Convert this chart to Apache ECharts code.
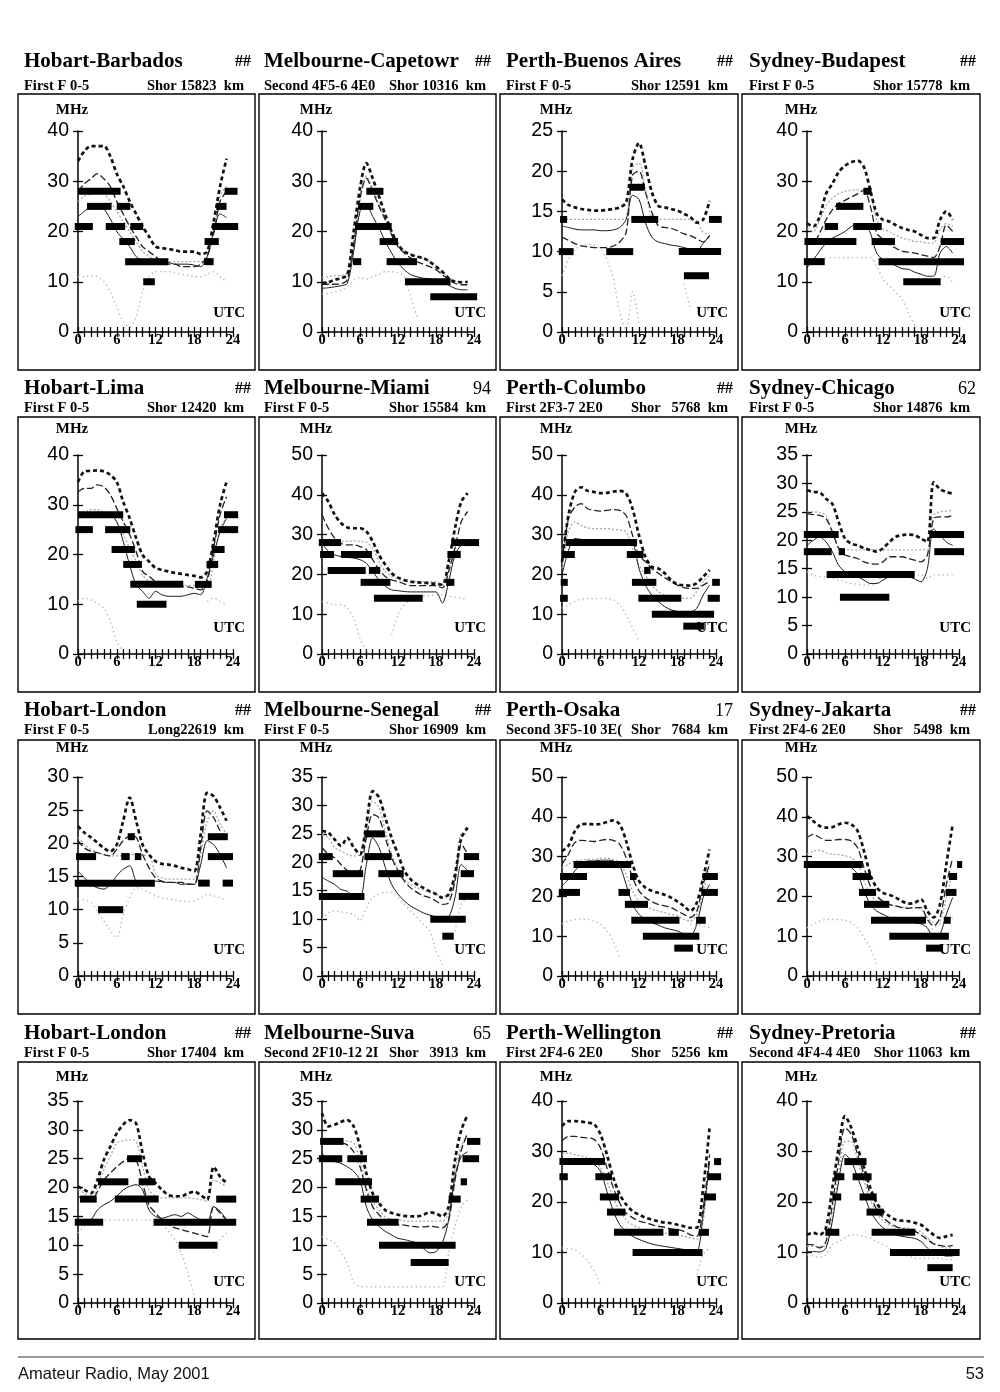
<!DOCTYPE html>
<html><head><meta charset="utf-8">
<script src="https://cdn.jsdelivr.net/npm/echarts@6/dist/echarts.min.js"></script>
<style>html,body{margin:0;padding:0;background:#fff}#c{width:1000px;height:1392px}</style>
</head><body><div id="c"></div>
<script>
// ---------- panel texts ----------
const titles = ['Hobart-Barbados','Melbourne-Capetowr','Perth-Buenos Aires','Sydney-Budapest',
  'Hobart-Lima','Melbourne-Miami','Perth-Columbo','Sydney-Chicago',
  'Hobart-London','Melbourne-Senegal','Perth-Osaka','Sydney-Jakarta',
  'Hobart-London','Melbourne-Suva','Perth-Wellington','Sydney-Pretoria'];
const tags = ['##','##','##','##','##','94','##','62','##','##','17','##','##','65','##','##'];
const modes = ['First F 0-5','Second 4F5-6 4E0','First F 0-5','First F 0-5',
  'First F 0-5','First F 0-5','First 2F3-7 2E0','First F 0-5',
  'First F 0-5','First F 0-5','Second 3F5-10 3E(','First 2F4-6 2E0',
  'First F 0-5','Second 2F10-12 2I','First 2F4-6 2E0','Second 4F4-4 4E0'];
const dists = ['Shor 15823  km','Shor 10316  km','Shor 12591  km','Shor 15778  km',
  'Shor 12420  km','Shor 15584  km','Shor   5768  km','Shor 14876  km',
  'Long22619  km','Shor 16909  km','Shor   7684  km','Shor   5498  km',
  'Shor 17404  km','Shor   3913  km','Shor   5256  km','Shor 11063  km'];
const yMax  = [40,40,25,40, 40,50,50,35, 30,35,50,50, 35,35,40,40];
const yStep = [10,10,5,10, 10,10,10,5, 5,5,10,10, 5,5,10,10];
const xTickLabels = [0,6,12,18,24];

// ---------- hourly values (0..23 UTC), MHz ----------
const p01_top=[34,36,37,37,37,35,31.5,29,26,23.5,21,19,17,16.7,16.5,16.3,16,16,16,15.5,16,22,29,34.5];
const p01_gry=[26,27,27.5,28,27.5,26,24,22,20,18,16,15,14.5,14.3,14,14,14,14,14,14,15,20,27,29];
const p01_dsh=[28,29.5,30.5,31.5,30.5,29,26,23.5,21,19,17,16,15,14,13.5,13.5,13,13,13,13.5,15,19.5,26,28];
const p01_sol=[23,24,25,25.3,24.5,22.5,20,18.5,17,15,14.3,14,13.8,13.8,13.8,13.5,13.5,13.5,13.3,13,15,20,23.5,22.8];
const p01_low=[11,11,11.2,11,10,8,5,2,1,3,8,11,12,12,12,11.8,11.5,11.3,11,11,11.5,12,11,10];
const p01_bars=[[28,0,6.6],[28,22.7,24.7],[25,1.4,5.2],[25,6,8.1],[25,21.4,23],[21,-0.5,2.3],[21,4.3,7.3],[21,8.1,10.1],[21,20.8,24.8],[18,6.4,8.8],[18,19.6,21.8],[14,7.3,14],[14,19.5,21],[10,10.1,11.9]];

const p02_top=[9.7,9.9,10.4,10.7,11.4,20,28.6,33.6,30.6,27,23.3,20,17.4,16,15.4,15,14.7,14,13,12,10.7,10,9.9,10];
const p02_gry=[10.8,11,11.2,11.3,11.6,17,26,31,28.5,25.5,22.5,19.5,17.5,16.2,15.5,15,14.6,14,13.2,12,10.8,10.2,9.9,10];
const p02_dsh=[9.5,9.5,9.5,9.6,10.4,17.4,26.6,30.6,28,25,22.3,19.3,17,15.7,14.7,14,13.5,13,12.4,11.4,10.4,9.7,9.4,9.4];
const p02_sol=[8.7,8.8,9,9.2,9.7,16,24,25.3,23,20.7,18,15.7,13.7,12.4,11.4,11,10.7,10.6,10.4,10,9.3,8.7,8.4,8.4];
const p02_low=[7.5,7.7,8,8.3,9,10.3,10.8,10.5,11,11.5,12,12,11.8,11,7,3,null,null,null,null,null,null,null,null];
const p02_bars=[[28,7,9.7],[25,5.7,8.1],[21,5.2,11],[18,9.1,12],[14,4.9,6.2],[14,10.2,15],[10,13.1,20.3],[7,17.1,24.5]];

const p03_top=[16.5,15.8,15.5,15.3,15.2,15.1,15.1,15.2,15.3,15.5,16.1,21.5,23.5,20.7,17.4,15.7,15.5,15.3,15.1,14.7,14.3,13.6,14,16.3];
const p03_gry=[14,14,14,14,14,14,14,14,14,14,14.2,20.5,21,17.8,14.3,14,14,14,14,14,14,13.8,12.4,12.2];
const p03_dsh=[11.8,11.4,11,10.7,10.6,10.5,10.5,10.5,10.7,11.2,12.4,19.5,20,17.4,14.9,13.2,13,12.9,12.6,12.2,12,11.6,11.2,12];
const p03_sol=[13.2,13,12.8,12.7,12.7,12.7,12.6,12.6,12.7,13,14,17,16.5,13.6,11.8,11.2,11,10.8,10.7,10.5,10.3,10.1,11,12];
const p03_low=[7,9,10.3,10.7,10.9,10.8,10.3,9,6.6,2.5,0.3,5,1,null,null,null,null,null,null,6,3,null,null,null];
const p03_bars=[[10,-0.5,1.8],[10,6.9,11.1],[10,18.2,24.8],[14,-0.3,0.8],[14,10.8,15],[14,22.9,24.9],[18,10.5,12.9],[7,19,22.9]];

const p04_top=[21.6,21,23,27.5,29.5,31.8,33.1,33.8,34.1,32.8,28.2,23.6,22.3,22,21.3,20.7,20.3,20,19.3,18.7,18.7,22.3,24,22.3];
const p04_gry=[20.6,20,22.3,25,26.6,27.5,28,28.2,28.3,28.2,27.5,22.3,20.6,20,19.3,18.7,18.4,18,18,17.7,17.7,20.3,21.6,21];
const p04_dsh=[18.4,17.7,19.7,22.3,24.3,25.6,26.2,26.9,27.5,28.2,25,19.7,18.4,17.4,16.7,16.1,15.9,15.7,15.4,15.1,14.8,17,21.3,20];
const p04_sol=[12.8,14.4,16.1,17.7,18.7,19.3,20,21,21.6,21.6,19.7,15.7,14.4,13.8,13.2,12.6,12.5,11.9,11.5,11.1,11.1,15.7,17,15.7];
const p04_low=[14.4,14.5,14.6,14.7,14.8,14.8,14.8,14.8,14.8,14.8,14.8,13.1,10.5,9.2,7.9,6.6,3.9,1.3,null,null,null,10.5,11.1,9.8];
const p04_bars=[[14,-0.5,2.8],[14,11.3,24.8],[18,-0.4,7.8],[18,10.2,13.9],[18,21.1,24.8],[21,2.8,4.9],[21,7.3,11.8],[25,4.6,8.9],[28,8.9,10.2],[10,15.2,21.1]];

const p05_top=[34.6,36.7,36.8,36.9,36.7,36,34.6,30.6,27.3,23.3,19.9,18.6,17.3,16.9,16.6,16.3,16.1,15.9,15.7,15.4,16.6,22.6,30,34.6];
const p05_gry=[28.6,28.6,29,29,28.6,28,26.6,24,21.3,18.6,15.9,14.6,14,13.8,13.8,13.8,13.8,13.8,13.8,13.8,13.2,18.6,25.3,27.3];
const p05_dsh=[32.6,33.3,33.3,34,33.6,32,29.3,26.6,24,20.6,16.6,15.6,14.6,14.2,13.9,13.7,13.6,13.5,13.2,12.9,14.6,21.3,28,31.6];
const p05_sol=[28,28.3,28.3,28.5,28.3,28,26.6,22.6,17.9,13.9,12.6,11.2,12.6,11.9,11.6,11.6,11.6,11.9,12.2,11.9,15.3,19.9,24.6,27.3];
const p05_low=[10.6,11.2,10.9,10.2,9.2,6.6,2.5,0.5,null,null,null,null,null,null,null,null,null,null,null,null,10.6,11.2,10.6,9.9];
const p05_bars=[[28,0,7],[28,22.6,24.8],[25,-0.4,2.3],[25,4.2,8.1],[25,21.7,24.8],[21,5.2,8.8],[21,20.7,22.7],[18,7,9.9],[18,19.9,21.7],[14,8.1,16.3],[14,18.1,20.7],[10,9.1,13.7]];

const p06_top=[40.4,38.3,35,32.9,31.8,31.6,31.6,30.8,28.3,24.9,22.4,20.3,19.2,18.6,18.2,18,17.9,17.8,17.6,17.4,23.2,31.6,38.3,40.4];
const p06_gry=[28.3,28.7,28.3,28.3,28.3,28.4,28.3,28.1,26.6,23.2,20.7,19.5,18.9,18.2,18.2,18.2,18.2,18.2,18.2,17.4,21.6,26.6,28.7,28.7];
const p06_dsh=[35,31.6,29.1,27.8,27.4,27.4,27,26.2,23.7,21.2,19.5,18.6,18.2,17.6,17.2,17.2,17.2,17.2,17.2,16.6,20.7,26.6,33.3,35.8];
const p06_sol=[27.8,25.8,24.9,24.5,24.3,24.1,23.7,22.8,20.7,18.6,17,16.1,15.9,15.7,15.6,15.6,15.6,15.6,15.6,12.8,18.2,24.9,27.4,28.7];
const p06_low=[13.2,12.8,12.4,12.4,11.5,9,4,0.7,null,null,null,4.8,9.9,12.4,13.6,14,14.5,14.7,14.9,14.9,14.5,14.3,14,13.6];
const p06_bars=[[28,-0.5,3],[28,20.4,24.8],[25,-0.3,1.9],[25,3,7.9],[25,19.8,21.9],[21,0.9,6.9],[21,7.4,9.2],[18,6.1,10.8],[18,19.6,20.9],[14,8.2,15.9]];

const p07_top=[23.2,34.8,40.7,41.9,41,40.7,40.4,40.5,40.8,41,40.3,36.5,29.8,24.4,21.9,21.5,20.3,18.6,17.5,17.3,17.2,17.8,19.4,21.1];
const p07_gry=[21.5,30.7,33.2,32.3,31.7,31.5,31.5,31.5,31.3,31.1,30.7,26.5,22.3,19.8,17.3,15.7,14.8,14.4,14.2,14,14,15.7,18.2,19.8];
const p07_dsh=[23,34,36.9,37.8,36.5,36.1,35.9,36.1,36.3,36.1,34.8,29.8,24.8,23.2,21.5,20.3,19.2,18.2,17.3,16.7,16.5,16.5,17.3,18.2];
const p07_sol=[19.8,26,29,28.8,28.6,28.6,28.6,28.6,28.6,28.6,28.6,28.2,21.5,17.3,14.8,13.2,11.9,11.1,10.7,10.3,10.5,11.5,14.8,17.3];
const p07_low=[11.5,12.3,13.2,13.8,13.9,13.9,14,13.9,13.6,12.3,9.8,6.5,3.2,null,null,null,null,null,null,null,null,null,null,null];
const p07_bars=[[28,0.6,11.7],[25,0,2],[25,10.1,12.7],[21,12.8,13.8],[18,-0.2,0.9],[18,10.9,14.7],[18,23.4,24.6],[14,-0.3,0.9],[14,11.9,18.6],[14,22.7,24.6],[10,14,23.7],[7,18.9,22.2]];

const p08_top=[28.8,28.5,28.4,27.3,26.4,23.2,20.3,19.4,19.1,18.6,18.3,18,18.6,19.7,20.6,20.9,21,20.9,20.3,19.7,30.2,29,28.5,28.2];
const p08_gry=[25,25,24.9,24.4,21.5,18.6,18.3,18.3,18.3,18.3,18.3,18.3,18.3,18.3,18.3,18.3,18.3,18.3,18.3,18.3,24.4,25,25.1,25.3];
const p08_dsh=[24.7,24.5,24.4,23.8,21.5,18.6,17.4,17.1,16.8,16.2,15.9,15.8,16.2,17.1,17.1,17.1,16.8,16.5,16.2,17.4,23.8,24.1,24.1,24.4];
const p08_sol=[19.1,20,20.6,19.7,18,15.6,14.5,14.2,13.6,13,12.4,12.4,13,13.6,14,13.9,13.6,13.2,12.7,15,22,20.9,19.7,19.1];
const p08_low=[14.5,13.9,13.6,13.6,13.3,13,12.7,12.4,12.3,12.2,12.1,12.5,13.9,13.9,13.9,13.9,13.9,13.9,13.9,13.3,13.9,13.9,13.9,13.9];
const p08_bars=[[21,-0.5,5],[21,19.3,24.8],[18,-0.5,3.9],[18,5,6],[18,20.1,24.8],[14,3.1,17],[10,5.2,13]];

const p09_top=[22.6,21.6,20.9,20.1,19.3,18.8,19.8,23.4,26.9,23.4,19.8,18.3,17.3,16.9,16.8,16.6,16.3,16.1,15.8,21.4,27.6,27.1,25.4,23.4];
const p09_gry=[20.9,19.8,19.1,18.6,18.3,18.1,18.1,18.1,18.3,18.3,18.2,18.2,15.3,14.8,14.6,14.6,14.6,14.6,14.6,18.3,23.4,24.9,22.9,21.4];
const p09_dsh=[20.4,19.3,18.8,18.6,18.3,18.1,19.1,20.4,21.1,20.9,18.3,16.3,14.8,14.3,14.1,14.1,14.1,13.8,13.8,19.3,24.9,23.9,21.9,20.9];
const p09_sol=[15.8,14.8,13.8,13.3,13.1,13.8,15.1,16.1,16.6,14.3,13.8,14.1,14.3,14.2,14.1,14.1,13.8,13.9,13.8,16.8,20.4,19.8,18.3,16.3];
const p09_low=[11.6,11.4,11.1,9.8,8.3,6.8,5.8,9.3,11.8,13.3,13.1,12.6,12.1,11.8,11.6,11.5,11.3,11.2,11.3,11.8,12.3,12.1,11.8,11.3];
const p09_bars=[[18,-0.3,2.8],[18,6.7,8],[18,8.8,9.8],[18,20.1,24],[21,7.7,8.8],[21,20.1,23.2],[14,-0.5,11.9],[14,18.6,20.4],[14,22.4,24],[10,3.1,7]];

const p10_top=[25.5,25.2,24,22.9,24.3,22.6,21.4,26.7,32.5,31.4,27.8,24.3,21.4,18.5,17,16.1,15.5,14.9,14.4,13.8,14.4,17.9,24.3,26.1];
const p10_gry=[24.9,24.3,22.6,22,21.4,21.1,21.4,26.1,30.8,29.6,25.5,21.4,18.8,17,16.1,15.5,15.1,14.7,14.4,13.9,13.9,17.3,24.9,24.9];
const p10_dsh=[22.6,21.4,20.8,19.6,18.5,17.6,18.5,24.3,28.4,27.8,24.3,20.8,18.5,16.7,15.5,14.7,14.1,13.8,13.2,12.6,12.9,16.7,23.2,21.4];
const p10_sol=[17.3,16.7,16.1,15.2,14.9,13.8,13.8,19.6,24.3,22.6,19.1,16.1,14.4,13.2,12.3,11.7,11.1,10.7,10.4,10,10.3,13.8,19.6,18.5];
const p10_low=[10,11.1,11.4,11.3,11.1,10.8,9.7,12,13.8,14.4,14.7,14.7,13.8,12.6,11.4,10.3,9.1,7.9,4.4,2,null,7.9,12.6,13.8];
const p10_bars=[[25,6.7,9.9],[21,-0.5,1.7],[21,6.7,11],[21,22.4,24.8],[18,1.7,6.5],[18,8.9,12.9],[18,21.9,24],[14,-0.5,6.7],[14,21.6,24.8],[10,17.1,22.7],[7,19,20.8]];

const p11_top=[31.4,32.7,36.4,38.1,38.2,38.1,38.2,38.7,39.1,38.1,33.9,28.1,23.9,22.2,21.4,20.9,20.4,19.7,18.7,17.6,16.3,18.4,24.7,31.8];
const p11_gry=[27.2,28.1,28.9,29.1,29.3,29.3,29.6,29.6,29.3,28.5,25.5,21.4,18.8,17.6,16.8,16.3,15.9,15.5,15.1,14.2,13.8,15.5,21.4,28.1];
const p11_dsh=[28.1,30.6,33.5,34.1,33.9,33.8,34.1,34.3,34.1,33.1,29.7,24.7,21.4,19.7,18.7,18,17.6,17.2,16.3,15.5,14.7,16.3,23,28.1];
const p11_sol=[22.6,24.3,26.4,28.1,28.9,28.9,29.1,29.1,28.9,27.6,23,18,15.5,14.2,13.4,12.8,12.1,11.7,11.3,10.5,10.1,13,19.7,23];
const p11_low=[13,13.8,14.2,14.3,14.2,13.8,13,11.3,8.8,4.6,null,null,null,null,null,null,null,null,null,null,13,13,12.6,12.1];
const p11_bars=[[28,1.8,10.8],[25,-0.3,3.9],[25,10.6,11.6],[25,21.9,24.3],[21,-0.5,2.8],[21,8.8,10.6],[21,21.7,24.3],[18,9.8,13.4],[14,10.8,18.3],[14,20.9,22.4],[10,12.6,21.4],[7,17.5,20.4]];

const p12_top=[40.2,38.9,37.7,37.3,37.4,38.1,38.5,38.1,36.4,31.4,25.5,22.2,20.9,20.4,19.7,18.8,18.2,18.4,19.3,16.3,14.7,18,28.1,38.1];
const p12_gry=[30.6,31.4,31.6,31,30.6,30.5,30.2,29.7,28.1,23.9,20.5,18.8,18.2,17.8,17.6,17.3,17.2,17.1,16.8,14.7,13.4,13.8,19.7,26.4];
const p12_dsh=[34.8,35.6,34.8,34.1,34.1,34.3,34.3,33.9,32.2,27.2,22.6,20.1,18.8,18,17.6,17.2,17,17.2,17.2,14.2,12.6,14.7,23,29.7];
const p12_sol=[28.1,28.5,28.5,28.3,28.1,27.9,27.6,27.2,25.5,21.4,18,16.3,15.5,14.7,14.2,13.8,13.7,13.4,13.1,12.1,9.6,10.5,15.5,19.7];
const p12_low=[12.1,13,13.8,14.2,14.2,14.2,14,13.4,12.1,9.6,7.1,2.9,null,null,null,null,null,null,null,11.3,12.1,13,13.8,14.6];
const p12_bars=[[28,-0.5,8.8],[28,23.7,24.5],[25,7.2,10.1],[25,22.4,23.7],[21,8.2,10.9],[21,21.9,23.6],[18,9,13],[14,10.1,18.8],[14,21.6,22.7],[10,13,22.4],[7,18.8,21.4]];

const p13_top=[20.2,19.6,19,21.3,24.8,27.1,29.4,30.9,31.7,31.1,26,21.9,20.8,19.6,18.7,18.5,18.5,19,19.3,18.7,17.9,23.6,21.9,20.8];
const p13_gry=[19.6,19,17.9,20.2,23.1,25.4,27.7,28.1,28.3,28,23.6,19.6,18.5,18.2,18.2,18.2,18.2,18.2,18.1,17.9,17.6,21.3,20.8,20.2];
const p13_dsh=[18.5,17.9,17.6,19.3,21.3,22.5,23.6,24.5,25.1,24.8,20.8,17,15.6,14.4,13.6,13,12.7,12.4,12.1,11.8,11.5,16.7,15.6,14.4];
const p13_sol=[13.8,13.8,14.4,16.1,17,17.6,18.5,19.6,20.2,20.5,19.6,16.1,15,14.7,15,15.3,15,15.6,15,14.4,13.8,16.7,15.9,14.4];
const p13_low=[12.1,13.3,14.1,14.4,14.4,14.4,14.4,14.4,14.4,14.4,14.4,14.4,14.3,13.6,12.4,11,8.7,5.2,1.2,null,null,8.7,11,12.1];
const p13_bars=[[14,-0.5,3.9],[14,11.7,24.5],[18,0.3,2.9],[18,5.7,12.5],[18,21.4,24.5],[21,3.1,7.8],[21,9.4,12],[25,7.6,9.9],[10,15.6,21.6]];

const p14_top=[32.9,30.6,30.9,31.4,31.7,30.6,27.1,22.5,19,17.3,16.1,15.6,15.3,15.1,15,15,15.3,15.7,15.5,15,16.7,24.8,30,32.6];
const p14_gry=[28.3,28.3,28.1,28.1,28,27.7,24.8,20.2,17.6,16.1,15,14.5,14.4,14.2,14.2,14.2,14.2,14.2,14.2,14.2,15.6,23.1,27.1,29.4];
const p14_dsh=[28.3,28.2,28,27.8,27.4,26.2,23.6,19.6,16.7,15.3,14.4,13.8,13.6,13.5,13.3,13.2,13.2,13.3,13.2,13,14.4,21.3,26.5,29.4];
const p14_sol=[26,24.8,24.5,24.2,23.6,22.8,21.3,16.7,14.4,13.3,12.4,11.8,11.2,11,10.7,10.4,9.5,8.7,8.9,10.4,14.4,21.9,25.4,26.2];
const p14_low=[11.5,11,10.4,8.7,6.9,3.5,2.9,2.8,2.8,2.8,2.8,2.8,2.8,2.8,2.8,2.8,2.8,2.8,2.8,2.8,8.7,13.3,16.7,17.9];
const p14_bars=[[28,-0.3,3.4],[28,22.9,25],[25,-0.5,3.2],[25,4,7.1],[25,22.2,24.8],[21,2.1,7.9],[21,21.9,22.9],[18,6.1,9],[18,20,21.9],[14,7.1,12.1],[10,9,21.1],[7,14,20]];

const p15_top=[35,36,36,35.9,35.7,35.4,33.4,29.4,24.8,21.5,19.5,18.2,17.5,16.9,16.5,16.2,15.9,15.8,15.5,15.2,14.9,14.9,22.8,34.7];
const p15_gry=[29.4,29.7,29.4,29.1,28.8,28.4,26.8,24.1,20.8,18.2,16.5,15.5,14.9,14.3,14.1,13.9,13.8,13.7,13.5,13.2,12.9,12.6,16.2,28.1];
const p15_dsh=[32.1,33,33,32.8,32.7,32.4,30.7,26.8,22.8,19.8,17.8,16.9,16.2,15.9,15.5,15.2,15,14.7,14.5,14.2,13.5,13.2,18.8,29.4];
const p15_sol=[28.1,28.1,28.1,28,27.8,27.4,26.1,22.1,18.2,15.5,14.2,13.2,12.6,12.1,11.7,11.4,11.2,11,10.8,10.6,10.2,10.2,17.5,28.1];
const p15_low=[10.9,10.7,10.5,9.6,8.3,6.3,3.6,null,null,null,null,null,null,null,null,null,null,null,null,null,null,5.6,9.6,10.9];
const p15_bars=[[28,-0.4,6.7],[28,23.7,24.8],[25,-0.4,0.9],[25,5.2,7.8],[25,22.7,24.8],[21,5.9,8.9],[21,22.1,24],[18,7,9.9],[14,8.1,15.8],[14,16.6,18.2],[14,21.3,22.9],[10,11,21.9]];

const p16_top=[13.5,13.9,13.5,14.9,22.8,30.7,37,34.7,30.7,26.8,22.8,19.8,18.2,17.2,16.5,16.3,16.2,15.9,15.5,14.5,13.5,12.9,13.2,13.5];
const p16_gry=[11.2,11.2,11.2,11.4,17.5,25.4,32,32,28.1,24.1,20.5,17.8,16.3,15.5,15,14.9,14.8,14.5,14.1,12.9,11.9,11.2,10.9,10.9];
const p16_dsh=[11.6,11.5,10.9,12.2,19.5,28.1,34.7,33.4,29.4,25.4,21.5,18.5,16.9,15.9,15.2,14.7,14.5,14.2,13.5,12.6,11.7,11.4,11.2,11.4];
const p16_sol=[10.2,10.2,10.1,10.9,16.2,24.1,29.4,28.1,24.8,21.5,18.2,16.2,14.9,14.1,13.5,13.2,13,12.8,12.2,10.9,9.9,9.6,9.3,9.3];
const p16_low=[9.6,9.3,9.1,9.6,11.6,12.2,12.9,13.5,13.5,13.2,12.9,12.2,11.6,10.9,10.2,9.6,9.3,8.9,8.8,8.9,8.9,8.8,8.6,8.6];
const p16_bars=[[28,5.9,9.4],[25,4.3,5.9],[25,7.2,10.2],[21,4,5.4],[21,8.3,11],[18,9.4,12.1],[14,2.9,5.1],[14,10.2,17.1],[10,13.1,24.1],[7,19,23]];

const PANELS = [
  [p01_top,p01_gry,p01_dsh,p01_sol,p01_low,p01_bars],[p02_top,p02_gry,p02_dsh,p02_sol,p02_low,p02_bars],
  [p03_top,p03_gry,p03_dsh,p03_sol,p03_low,p03_bars],[p04_top,p04_gry,p04_dsh,p04_sol,p04_low,p04_bars],
  [p05_top,p05_gry,p05_dsh,p05_sol,p05_low,p05_bars],[p06_top,p06_gry,p06_dsh,p06_sol,p06_low,p06_bars],
  [p07_top,p07_gry,p07_dsh,p07_sol,p07_low,p07_bars],[p08_top,p08_gry,p08_dsh,p08_sol,p08_low,p08_bars],
  [p09_top,p09_gry,p09_dsh,p09_sol,p09_low,p09_bars],[p10_top,p10_gry,p10_dsh,p10_sol,p10_low,p10_bars],
  [p11_top,p11_gry,p11_dsh,p11_sol,p11_low,p11_bars],[p12_top,p12_gry,p12_dsh,p12_sol,p12_low,p12_bars],
  [p13_top,p13_gry,p13_dsh,p13_sol,p13_low,p13_bars],[p14_top,p14_gry,p14_dsh,p14_sol,p14_low,p14_bars],
  [p15_top,p15_gry,p15_dsh,p15_sol,p15_low,p15_bars],[p16_top,p16_gry,p16_dsh,p16_sol,p16_low,p16_bars]
];

// ---------- layout (px) ----------
const COL_X0=[78,322,562,807], COL_X24=[233,474,716,959];
const ROW_T=[131,455,777,1101], ROW_B=[332,654,976,1303];
const BOX_L=[18,259,500,742], BOX_R=[255,496,738,980];
const BOX_T=[94,417,740,1062], BOX_B=[370,692,1014,1339];
const TITLE_Y=[62,389,711,1034], SUB_Y=[86,408,730,1053];
const TITLE_L=[24,264,506,749], TITLE_R=[251,491,733,976], SUB_R=[244,486,728,970];
const MHZ_DY=[21,26,29,24], UTC_DY=[19,26,26,21];

const SERIF='"Liberation Serif","Times New Roman",serif';
const SANS='"Liberation Sans",Arial,sans-serif';

const grids=[], xAxes=[], yAxes=[], series=[], graphics=[];
const lineDefs = [
  {k:4, style:{color:'#b8b8b8', width:1.3, type:[1.5,3]}, z:2},
  {k:1, style:{color:'#a8a8a8', width:1.3, type:[2,2]}, z:3},
  {k:3, style:{color:'#1a1a1a', width:1}, z:4},
  {k:2, style:{color:'#222', width:1.3, type:[7,3]}, z:5},
  {k:0, style:{color:'#111', width:2.7, type:[4,3]}, z:6}
];

for (let i=0;i<16;i++){
  const r=Math.floor(i/4), c=i%4;
  grids.push({left:COL_X0[c], top:ROW_T[r], width:COL_X24[c]-COL_X0[c], height:ROW_B[r]-ROW_T[r], containLabel:false});
  const xa = {gridIndex:i, type:'value', min:0, max:24, interval:1, position:'bottom',
    axisLine:{show:true, onZero:false, lineStyle:{color:'#000', width:1.5}},
    axisTick:{show:true, length:5, lineStyle:{color:'#000', width:1.3}},
    splitLine:{show:false},
    axisLabel:{show:true, formatter:v=> xTickLabels.indexOf(v)>=0 ? String(v) : '', fontFamily:SERIF, fontWeight:'bold', fontSize:14.5, color:'#000', margin:1}};
  const xa2 = {gridIndex:i, type:'value', min:0, max:24, interval:1, position:'bottom',
    axisLine:{show:false}, axisTick:{show:true, inside:true, length:5, lineStyle:{color:'#000', width:1.3}},
    splitLine:{show:false}, axisLabel:{show:false}};
  xAxes.push(xa, xa2);
  const ya = {gridIndex:i, type:'value', min:0, max:yMax[i], interval:yStep[i], position:'left',
    axisLine:{show:true, onZero:false, lineStyle:{color:'#000', width:1.5}},
    axisTick:{show:true, length:5, lineStyle:{color:'#000', width:1.3}},
    splitLine:{show:false},
    axisLabel:{show:true, fontFamily:SANS, fontSize:19.5, color:'#000', margin:9}};
  const ya2 = {gridIndex:i, type:'value', min:0, max:yMax[i], interval:yStep[i], position:'left',
    axisLine:{show:false}, axisTick:{show:true, inside:true, length:5, lineStyle:{color:'#000', width:1.3}},
    splitLine:{show:false}, axisLabel:{show:false}};
  yAxes.push(ya, ya2);

  const P = PANELS[i];
  lineDefs.forEach(d=>{
    series.push({type:'line', xAxisIndex:2*i, yAxisIndex:2*i, data:P[d.k].map((v,h)=>[h,v]),
      symbol:'none', showSymbol:false, smooth:0.3, connectNulls:false, silent:true, z:d.z,
      lineStyle:d.style});
  });
  series.push({type:'custom', xAxisIndex:2*i, yAxisIndex:2*i, data:P[5], z:8, silent:true, clip:false,
    encode:{x:[1,2], y:0},
    renderItem:function(params, api){
      const f=api.value(0), s=api.value(1), e=api.value(2);
      const p1=api.coord([s,f]), p2=api.coord([e,f]);
      return {type:'rect', shape:{x:p1[0], y:p1[1]-3.5, width:p2[0]-p1[0], height:7}, style:{fill:'#000'}};
    }});

  // frame + texts
  graphics.push({type:'rect', shape:{x:BOX_L[c], y:BOX_T[r], width:BOX_R[c]-BOX_L[c], height:BOX_B[r]-BOX_T[r]},
    style:{fill:'none', stroke:'#000', lineWidth:1.4}, silent:true});
  graphics.push({type:'text', x:TITLE_L[c], y:TITLE_Y[r], style:{text:titles[i], font:'bold 21px '+SERIF, fill:'#000', align:'left', verticalAlign:'middle'}});
  const tagIsHash = tags[i]==='##';
  graphics.push({type:'text', x:TITLE_R[c], y:TITLE_Y[r], style:{text:tags[i], font:(tagIsHash?'bold 16px ':'18px ')+SERIF, fill:'#000', align:'right', verticalAlign:'middle'}});
  graphics.push({type:'text', x:TITLE_L[c], y:SUB_Y[r], style:{text:modes[i], font:'bold 14.5px '+SERIF, fill:'#000', align:'left', verticalAlign:'middle'}});
  graphics.push({type:'text', x:SUB_R[c], y:SUB_Y[r], style:{text:dists[i], font:'bold 14.5px '+SERIF, fill:'#000', align:'right', verticalAlign:'middle'}});
  graphics.push({type:'text', x:COL_X0[c]-6, y:ROW_T[r]-MHZ_DY[r], style:{text:'MHz', font:'bold 15px '+SERIF, fill:'#000', align:'center', verticalAlign:'middle'}});
  graphics.push({type:'text', x:COL_X24[c]+12, y:ROW_B[r]-UTC_DY[r], style:{text:'UTC', font:'bold 15px '+SERIF, fill:'#000', align:'right', verticalAlign:'middle'}});
}

// footer
graphics.push({type:'line', shape:{x1:18, y1:1357, x2:984, y2:1357}, style:{stroke:'#333', lineWidth:1}});
graphics.push({type:'text', x:18, y:1374, style:{text:'Amateur Radio, May 2001', font:'16.5px '+SANS, fill:'#111', align:'left', verticalAlign:'middle'}});
graphics.push({type:'text', x:984, y:1374, style:{text:'53', font:'16.5px '+SANS, fill:'#111', align:'right', verticalAlign:'middle'}});

const chart = echarts.init(document.getElementById('c'), null, {renderer:'canvas', width:1000, height:1392});
chart.setOption({
  backgroundColor:'#fff', animation:false,
  grid:grids, xAxis:xAxes, yAxis:yAxes, series:series, graphic:graphics
});
</script></body></html>
